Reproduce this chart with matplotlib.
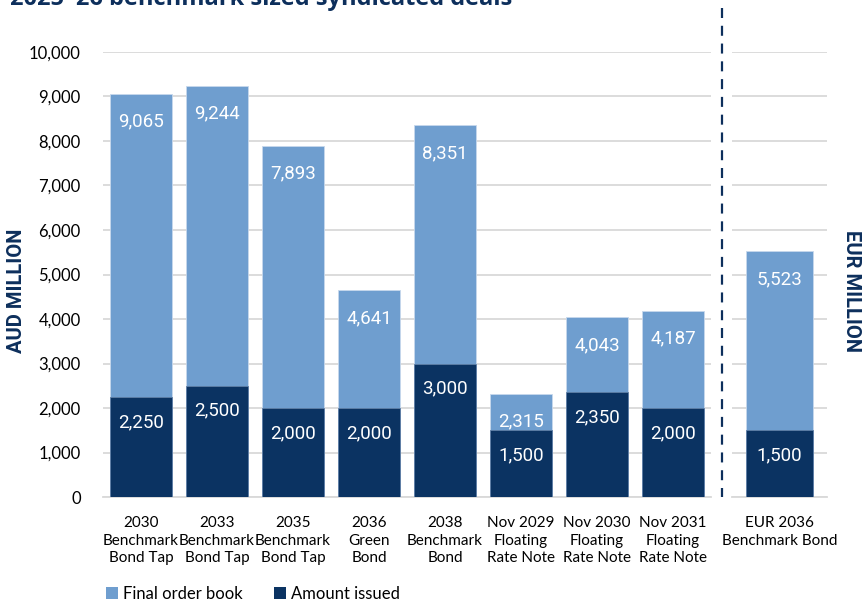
import matplotlib
matplotlib.use("Agg")
import matplotlib.pyplot as plt
from matplotlib import font_manager as fm
from matplotlib.lines import Line2D
from matplotlib.patches import Patch

categories = ["2030\nBenchmark\nBond Tap", "2033\nBenchmark\nBond Tap", "2035\nBenchmark\nBond Tap",
              "2036\nGreen\nBond", "2038\nBenchmark\nBond", "Nov 2029\nFloating\nRate Note",
              "Nov 2030\nFloating\nRate Note", "Nov 2031\nFloating\nRate Note"]
order_book = [9065, 9244, 7893, 4641, 8351, 2315, 4043, 4187]
issued = [2250, 2500, 2000, 2000, 3000, 1500, 2350, 2000]

eur_categories = ["EUR 2036\nBenchmark Bond"]
eur_order_book = [5523]
eur_issued = [1500]

yticks = list(range(0, 10001, 1000))

LIGHT = "#6f9ecf"
DARK = "#0b3362"
NAVY = "#0d2f5c"
GRID = "#d9d9d9"

names = {f.name for f in fm.fontManager.ttflist}
def pick(*cands):
    for c in cands:
        if c in names:
            return c
    return "DejaVu Sans"

LBL = pick("Roboto", "DejaVu Sans")
TXT = pick("Lato", "Open Sans", "DejaVu Sans")

W, H = 867, 601
fig = plt.figure(figsize=(W / 100, H / 100), dpi=100)

def fx(px):
    return px / W

def fy(py):
    return 1 - py / H

ax = fig.add_axes([fx(103), fy(497), fx(711) - fx(103), fy(52) - fy(497)])
ax2 = fig.add_axes([fx(732), fy(497), fx(827) - fx(732), fy(52) - fy(497)])

def style(a):
    a.set_ylim(0, 10000)
    a.set_yticks(yticks)
    a.grid(axis="y", color=GRID, linewidth=1.3, zorder=0)
    a.set_axisbelow(True)
    for s in ["top", "right", "left"]:
        a.spines[s].set_visible(False)
    a.spines["bottom"].set_color(GRID)
    a.spines["bottom"].set_linewidth(1.3)
    a.tick_params(axis="both", length=0, pad=6)
    a.tick_params(axis="x", labelsize=11, pad=14)
    for t in a.get_xticklabels():
        t.set_fontfamily(TXT)
        t.set_linespacing(1.3)

LFS = 13.5

# left panel
x = list(range(len(categories)))
ax.set_xlim(-0.5, len(categories) - 0.5)
ax.bar(x, order_book, width=0.82, color=LIGHT, edgecolor="#c7d8ec", linewidth=0.6, zorder=2)
ax.bar(x, issued, width=0.82, color=DARK, edgecolor="#5f7fa6", linewidth=0.6, zorder=3)
ax.set_xticks(x)
ax.set_xticklabels(categories)
ax.set_yticklabels([f"{v:,}" for v in yticks], fontfamily=TXT, fontsize=12)
style(ax)
ax.tick_params(axis="y", pad=16)
for i in x:
    ax.annotate(f"{order_book[i]:,}", (i, order_book[i]), xytext=(0, -20), textcoords="offset points",
                ha="center", va="center", color="white", fontsize=LFS, fontfamily=LBL, zorder=4)
    ax.annotate(f"{issued[i]:,}", (i, issued[i]), xytext=(0, -18), textcoords="offset points",
                ha="center", va="center", color="white", fontsize=LFS, fontfamily=LBL, zorder=4)

# right panel
x2 = list(range(len(eur_categories)))
ax2.set_xlim(-0.7, 0.7)
ax2.bar(x2, eur_order_book, width=0.99, color=LIGHT, edgecolor="#c7d8ec", linewidth=0.6, zorder=2)
ax2.bar(x2, eur_issued, width=0.99, color=DARK, edgecolor="#5f7fa6", linewidth=0.6, zorder=3)
ax2.set_xticks(x2)
ax2.set_xticklabels(eur_categories)
ax2.set_yticklabels([])
style(ax2)
for i in x2:
    ax2.annotate(f"{eur_order_book[i]:,}", (i, eur_order_book[i]), xytext=(0, -20), textcoords="offset points",
                 ha="center", va="center", color="white", fontsize=LFS, fontfamily=LBL, zorder=4)
    ax2.annotate(f"{eur_issued[i]:,}", (i, eur_issued[i]), xytext=(0, -18), textcoords="offset points",
                 ha="center", va="center", color="white", fontsize=LFS, fontfamily=LBL, zorder=4)

# dashed separator
fig.add_artist(Line2D([fx(722), fx(722)], [fy(8), fy(497)], color=NAVY, linewidth=1.6,
                      linestyle=(0, (4.5, 3.5))))

# axis titles
fig.text(fx(17), fy(291), "AUD MILLION", rotation=90, ha="center", va="center",
         color=NAVY, fontsize=14.5, fontweight="bold", fontfamily=LBL)
fig.text(fx(852), fy(291), "EUR MILLION", rotation=-90, ha="center", va="center",
         color=NAVY, fontsize=14.5, fontweight="bold", fontfamily=LBL)

# title (cut off by the top edge, as in the source)
fig.text(fx(10), fy(5), "2025–26 benchmark sized syndicated deals", ha="left", va="baseline",
         color=NAVY, fontsize=17, fontweight="bold", fontfamily=pick("Open Sans", "DejaVu Sans"))

# legend
handles = [Patch(facecolor=LIGHT, edgecolor="none", label="Final order book"),
           Patch(facecolor=DARK, edgecolor="none", label="Amount issued")]
fig.legend(handles=handles, loc="center left", bbox_to_anchor=(fx(106), fy(594)), ncol=2, frameon=False,
           prop={"family": TXT, "size": 12}, handlelength=0.7, handleheight=0.7,
           handletextpad=0.3, columnspacing=1.9, borderaxespad=0.0, borderpad=0.0)

fig.savefig("out.png", dpi=100)
